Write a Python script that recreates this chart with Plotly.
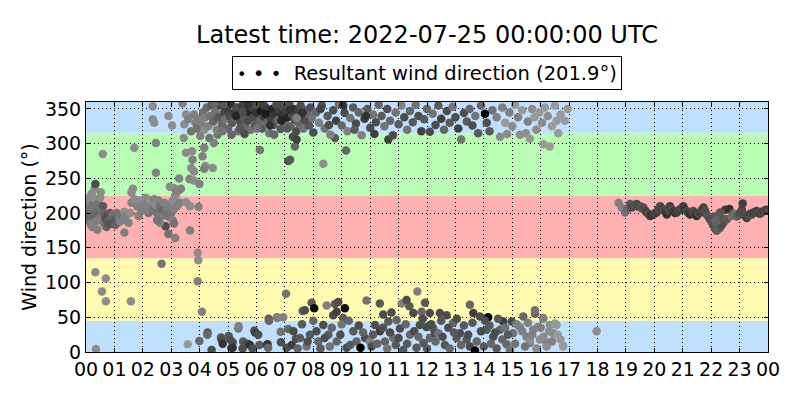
import plotly.graph_objects as go

# ---------------- data ----------------
tick_labels = ["00","01","02","03","04","05","06","07","08","09","10","11","12",
               "13","14","15","16","17","18","19","20","21","22","23","00"]
resultant_dir = 201.9
latest_time = "2022-07-25 00:00:00 UTC"

# direction sectors (deg) and their fill colours
sector_lo = [0, 45, 135, 225, 315]
sector_hi = [45, 135, 225, 315, 360]
sector_col = ["#bfe0ff", "#fffbb0", "#ffb0b0", "#b9fdb5", "#bfe0ff"]

# night / early morning SW cluster (00-04 h)
hours_a = [0.02,0.05,0.08,0.1,0.12,0.15,0.18,0.2,0.22,0.25,0.28,0.3,0.33,0.35,0.38,0.4,0.42,0.45,0.48,0.5,
           0.52,0.55,0.58,0.6,0.62,0.65,0.68,0.7,0.72,0.75,0.78,0.8,0.82,0.85,0.88,0.9,0.93,0.95,0.98,1.0,
           1.03,1.05,1.08,1.1,1.15,1.2,1.25,1.3,1.35,1.4,1.5,1.55,1.6,1.65,0.33,0.59,0.33,0.7,0.56,0.7,
           0.35,1.58,1.7,1.35,
           1.6,1.7,1.8,1.9,2.0,2.05,2.1,2.15,2.2,2.25,2.3,2.35,2.4,2.45,2.5,2.55,2.6,2.65,2.7,2.75,
           2.8,2.85,2.9,2.95,3.0,3.05,3.1,3.15,3.2,3.25,3.3,3.1,2.95,2.8,2.9,3.05,3.1,2.6,2.5,1.85,
           1.95,2.12,2.35,2.35,2.4,2.46,2.46,2.66,2.9,3.03,3.14,
           3.28,3.34,3.17,3.44,3.52,3.73,3.75,3.7,3.8,3.64,3.79,3.99,3.96,3.66,3.52,3.66,3.93,3.95,3.93,3.58,
           4.16,4.1,4.2,4.46,4.16,4.34,4.5,4.63,4.02,4.16,3.4,3.52,3.8,3.46,3.6,3.7,3.85,3.9,3.98]
dir_a = [200,215,190,222,205,185,196,228,180,212,198,235,208,188,220,176,214,200,192,222,
         230,205,188,210,200,185,195,192,180,188,196,184,190,200,186,192,185,198,188,193,
         183,190,200,186,194,188,197,190,202,196,186,200,230,235,242,285,115,106,87,73,
         4,73,294,172,
         215,220,210,218,212,205,222,215,200,218,210,205,220,212,200,218,210,195,205,215,
         200,208,195,212,200,218,206,225,210,232,215,236,238,181,170,190,185,186,190,196,
         205,205,354,335,330,301,258,127,340,326,164,
         250,235,232,308,287,289,277,265,260,249,247,242,209,210,216,175,143,132,102,11,
         294,282,268,265,264,308,301,313,311,320,358,342,342,328,335,318,330,322,335]
shade_a = [.45,.5,.4,.55,.45,.5,.4,.55,.5,.45,.4,.55,.45,.5,.55,.5,.45,.4,.5,.55,
           .55,.45,.5,.35,.4,.45,.35,.3,.4,.35,.3,.35,.4,.35,.3,.4,.35,.45,.35,.4,
           .4,.35,.45,.4,.45,.5,.45,.5,.55,.5,.5,.55,.55,.55,.3,.55,.55,.55,.55,.55,
           .55,.55,.55,.5,
           .5,.55,.5,.55,.5,.45,.55,.5,.45,.55,.5,.45,.5,.55,.45,.5,.45,.5,.4,.5,
           .45,.5,.45,.5,.45,.55,.5,.55,.5,.55,.5,.55,.55,.3,.45,.5,.45,.5,.45,.5,
           .5,.5,.55,.55,.55,.5,.5,.45,.55,.55,.5,
           .5,.5,.5,.55,.55,.55,.5,.55,.55,.5,.55,.5,.5,.55,.55,.5,.55,.55,.5,.6,
           .5,.5,.55,.55,.5,.45,.5,.45,.5,.55,.5,.55,.5,.55,.5,.45,.5,.45,.5]

# daytime northerly cluster (near 315-360 deg)
hours_b = [4.05,4.12,4.2,4.25,4.3,4.38,4.42,4.48,4.55,4.6,4.65,4.72,4.78,4.85,4.9,4.95,5.0,5.05,5.1,5.15,
           5.2,5.25,5.3,5.35,5.4,5.45,5.5,5.55,5.6,5.65,5.7,5.75,5.8,5.85,5.9,5.95,6.0,6.05,6.1,6.15,
           6.2,6.25,6.3,6.35,6.4,6.45,6.5,6.55,6.6,6.65,6.7,6.75,6.8,6.85,6.9,6.95,7.0,7.05,7.1,7.15,
           7.2,7.25,7.3,7.35,7.4,7.45,7.5,7.55,7.6,7.65,7.7,7.75,7.8,7.85,7.9,7.95,8.0,
           4.52,4.8,5.12,5.42,5.58,5.9,6.22,6.48,6.62,6.88,7.08,7.28,7.42,7.62,5.28,5.72,6.02,6.32,6.78,7.18,
           5.52,4.88,6.12,7.12,7.18,8.35,7.35,9.15,10.64,7.41,8.76,
           8.1,8.2,8.3,8.4,8.5,8.6,8.7,8.8,8.9,9.0,9.1,9.2,9.3,9.4,9.5,9.6,9.7,9.8,9.9,10.0,
           10.1,10.2,10.3,8.25,8.55,9.05,9.45,9.85,10.15,
           10.4,10.5,10.6,10.7,10.8,10.9,11.0,11.1,11.2,11.3,11.4,11.5,11.6,11.7,11.8,11.9,12.0,12.1,12.2,12.3,
           12.4,12.5,12.6,12.7,12.8,12.9,13.0,13.1,13.2,13.3,13.4,13.5,13.6,13.7,13.8,13.9,14.1,14.2,14.3,14.04,
           14.45,14.57,14.65,14.75,14.82,14.9,15.0,15.1,15.2,15.27,15.35,15.48,15.55,15.62,15.7,15.78,15.85,15.95,16.05,16.09,
           16.15,16.25,16.32,16.4,16.5,16.56,16.62,16.7,16.85,16.95]
dir_b = [330,345,338,352,325,340,356,332,347,320,338,355,328,344,335,350,322,340,357,330,
         345,336,352,318,342,330,355,337,325,348,333,345,320,352,338,327,344,356,333,347,
         322,339,353,330,345,315,336,350,327,342,356,334,348,321,340,353,330,345,338,357,
         325,342,350,334,318,346,329,355,338,322,348,333,343,326,352,337,316,
         358,318,313,322,314,356,357,326,313,333,322,310,337,345,340,357,322,343,358,349,
         346,357,291,275,277,271,296,290,306,306,308,
         345,330,355,322,340,313,348,333,357,326,344,318,337,352,329,345,312,336,350,323,
         342,331,356,350,327,355,320,340,314,
         340,325,350,333,312,345,328,355,338,320,347,331,356,340,318,335,350,317,343,327,
         355,336,320,347,330,353,338,322,306,344,332,350,326,340,315,355,330,318,348,343,
         338,310,352,330,314,345,325,356,338,313,348,315,332,307,350,338,320,345,330,299,
         352,340,296,325,355,333,315,342,333,350]
shade_b = [.5,.45,.5,.4,.5,.45,.35,.4,.45,.5,.35,.3,.4,.3,.45,.25,.4,.3,.2,.35,
           .25,.4,.3,.45,.2,.3,.25,.35,.4,.2,.3,.15,.45,.25,.3,.35,.2,.3,.4,.1,
           .35,.25,.2,.4,.3,.45,.25,.15,.35,.2,.3,.4,.25,.35,.2,.3,.45,.25,.15,.3,
           .4,.3,.2,.35,.3,.25,.4,.3,.25,.45,.35,.3,.4,.35,.3,.45,.3,
           .4,.45,.4,.35,.3,.3,.25,.2,.4,.15,.35,.3,.5,.2,.15,.2,.45,.1,.3,.2,
           .3,.35,.45,.3,.35,.55,.4,.4,.25,.25,.35,
           .4,.5,.3,.45,.35,.5,.3,.25,.45,.4,.3,.5,.45,.35,.3,.4,.5,.25,.35,.3,
           .45,.3,.4,.25,.3,.2,.35,.2,.25,
           .35,.45,.3,.4,.3,.45,.35,.5,.3,.45,.4,.35,.45,.3,.25,.35,.4,.3,.45,.3,
           .35,.25,.4,.3,.35,.45,.3,.25,.45,.3,.35,.4,.3,.45,.35,.4,.3,.35,.45,.0,
           .5,.55,.5,.6,.55,.5,.55,.6,.5,.55,.6,.55,.5,.6,.55,.6,.55,.6,.55,.6,
           .6,.55,.6,.6,.6,.6,.6,.6,.6,.6]

# daytime northerly cluster (near 0-90 deg)
hours_c = [3.99,4.08,4.28,4.27,4.42,4.75,4.77,4.81,5.02,5.07,5.12,5.16,5.16,5.36,5.37,5.51,5.53,5.69,5.77,5.86,
           5.92,5.95,6.06,6.1,6.36,6.39,6.41,6.43,6.44,6.72,6.73,6.85,6.86,6.94,7.04,7.06,7.12,7.24,7.39,7.53,
           7.62,7.7,7.76,7.88,7.94,8.03,8.11,8.17,8.35,8.47,8.53,8.58,8.7,8.76,8.82,8.82,8.88,9.05,9.11,9.17,
           9.41,9.52,9.66,9.82,9.87,9.99,10.17,10.34,10.34,10.46,10.52,10.64,10.75,10.81,10.93,11.05,11.11,11.16,11.28,11.38,
           11.4,11.52,11.63,11.66,11.75,11.81,11.87,11.93,11.98,12.1,12.1,12.22,12.28,12.4,12.45,12.63,12.69,12.92,13.04,13.16,
           13.39,13.51,13.51,13.63,13.69,13.86,14.1,14.15,14.33,14.45,14.57,14.68,14.8,14.92,14.98,15.03,15.27,15.39,15.5,15.62,
           15.62,15.74,15.8,15.8,15.91,15.97,16.09,16.09,16.2,16.21,16.32,16.44,16.5,16.56,16.79,16.79,17.97,
           7.3,7.45,7.6,7.8,8.0,8.25,8.4,8.65,8.95,9.0,9.25,9.3,9.6,9.75,10.05,10.1,10.25,10.45,10.6,10.7,
           10.9,11.0,11.25,11.3,11.55,11.7,11.85,12.0,12.15,12.3,12.5,12.55,12.75,12.8,12.95,13.05,13.2,13.3,13.45,13.6,
           13.75,13.9,14.0,14.05,14.2,14.25,14.4,14.5,14.65,14.75,14.85,15.1,15.15,15.35,15.45,15.55,15.7,15.85,16.0,16.1,
           16.3,16.4,16.6,16.7]
dir_c = [16,58,28,25,3,21,18,12,23,18,6,14,6,34,37,5,15,12,10,5,
         31,28,25,10,10,11,6,48,45,50,49,29,14,50,84,6,33,10,19,20,
         59,60,8,25,71,63,30,15,39,67,25,8,53,69,58,15,72,49,63,6,
         30,15,6,20,74,15,39,70,30,54,15,44,57,20,46,34,70,3,75,66,
         25,56,6,87,39,58,13,71,36,56,20,34,27,27,56,10,53,42,20,27,
         18,68,8,56,2,51,32,50,22,5,32,44,11,3,44,27,36,51,22,13,
         16,32,55,60,36,18,49,48,14,8,39,27,41,39,8,9,30,
         30,5,40,15,45,5,20,35,25,40,45,10,38,28,8,25,12,35,5,28,
         10,20,40,12,30,22,48,5,40,15,45,22,35,5,28,48,10,38,25,42,
         15,30,8,45,38,12,28,48,18,35,25,12,40,30,8,42,25,5,35,22,
         30,15,25,18]
shade_c = [.4,.5,.35,.4,.3,.35,.3,.2,.35,.3,.25,.3,.2,.45,.5,.3,.35,.3,.2,.3,
           .35,.25,.3,.35,.3,.2,.4,.35,.4,.45,.5,.45,.3,.5,.45,.3,.4,.25,.3,.35,
           .4,.3,.45,.35,.35,.05,.3,.4,.3,.5,.35,.45,.3,.35,.25,.4,.3,.35,.05,.3,
           .35,.4,.0,.3,.45,.5,.3,.35,.25,.3,.4,.35,.3,.45,.4,.3,.5,.35,.3,.35,
           .4,.3,.35,.5,.3,.4,.35,.35,.3,.3,.4,.35,.3,.45,.3,.35,.3,.4,.35,.3,
           .35,.4,.3,.25,.0,.3,.35,.0,.3,.35,.4,.25,.4,.45,.3,.45,.5,.4,.5,.5,
           .55,.5,.4,.45,.5,.55,.45,.5,.5,.55,.55,.55,.6,.6,.6,.6,.55,
           .3,.4,.35,.3,.4,.35,.3,.4,.3,.45,.4,.35,.3,.4,.3,.35,.4,.3,.45,.3,
           .35,.3,.4,.35,.3,.4,.3,.35,.3,.4,.35,.3,.3,.4,.35,.3,.4,.35,.3,.35,
           .4,.3,.35,.3,.35,.4,.3,.35,.4,.45,.35,.45,.5,.5,.45,.5,.5,.55,.5,.55,
           .55,.5,.6,.6]

# evening steady SSW flow (19-24 h)
hours_d = [18.74,18.85,18.97,19.05,19.15,19.2,19.26,19.32,19.38,19.44,19.5,19.55,19.61,19.67,19.73,19.79,19.85,19.91,19.97,20.03,
           20.08,20.14,20.2,20.26,20.32,20.38,20.44,20.5,20.55,20.61,20.67,20.73,20.79,20.85,20.9,20.96,21.02,21.08,21.14,21.2,
           21.26,21.32,21.37,21.43,21.49,21.55,21.61,21.67,21.73,21.79,21.84,21.9,21.96,22.02,22.08,22.14,22.2,22.25,22.31,22.37,
           22.43,22.49,22.55,22.64,22.31,22.72,22.78,22.84,22.9,22.96,23.02,23.08,23.11,23.17,23.25,23.31,23.37,23.43,23.49,23.55,
           23.6,23.66,23.72,23.78,23.84,23.9,23.95,24.0,22.1,22.25,22.4,22.15]
dir_d = [215,208,201,206,213,208,210,212,213,209,210,207,208,204,201,199,196,197,198,200,
         201,206,210,207,205,202,198,204,210,206,203,200,201,204,205,207,210,205,203,200,
         198,201,203,199,196,199,201,205,208,203,198,195,191,187,182,178,175,177,179,183,
         186,205,191,206,201,196,199,198,195,197,201,205,214,197,193,196,199,198,201,202,
         203,200,199,201,203,204,205,203,195,190,192,188]
shade_d = [.5,.5,.45,.4,.35,.3,.3,.35,.3,.3,.3,.35,.3,.3,.25,.3,.25,.2,.25,.3,
           .25,.3,.3,.25,.3,.25,.2,.3,.25,.3,.25,.2,.25,.3,.25,.3,.25,.2,.3,.25,
           .2,.25,.3,.25,.2,.3,.25,.3,.25,.3,.3,.35,.3,.35,.3,.35,.3,.4,.35,.3,
           .3,.25,.35,.2,.35,.45,.4,.45,.4,.35,.3,.3,.25,.3,.25,.3,.25,.3,.25,.3,
           .25,.3,.25,.3,.25,.3,.25,.3,.35,.4,.35,.4]

hours = hours_a + hours_b + hours_c + hours_d
direction = dir_a + dir_b + dir_c + dir_d
shade = shade_a + shade_b + shade_c + shade_d

# ---------------- figure ----------------
FONT = "DejaVu Sans"
fig = go.Figure()

fig.add_trace(go.Scatter(
    x=hours, y=direction, mode="markers", showlegend=False,
    marker=dict(size=8.5, color=shade, cmin=0, cmax=1,
                colorscale=[[0, "#000000"], [1, "#ffffff"]],
                line=dict(width=0)),
    hovertemplate="%{x:.2f} h<br>%{y}°<extra></extra>",
))

for lo, hi, col in zip(sector_lo, sector_hi, sector_col):
    fig.add_shape(type="rect", xref="x domain", yref="y", x0=0, x1=1, y0=lo, y1=hi,
                  fillcolor=col, line=dict(width=0), layer="below")

axis_common = dict(showline=True, linecolor="black", linewidth=1, mirror="ticks",
                   ticks="inside", ticklen=4, tickcolor="black",
                   showgrid=True, gridcolor="black", gridwidth=1, griddash="1px,3px",
                   zeroline=False, tickfont=dict(family=FONT, size=19, color="black"))

fig.update_xaxes(range=[0, 24], tickvals=list(range(25)), ticktext=tick_labels, **axis_common)
fig.update_yaxes(range=[0, 360], tickvals=[0, 50, 100, 150, 200, 250, 300, 350],
                 title=dict(text="Wind direction (°)", font=dict(family=FONT, size=19, color="black"),
                            standoff=3),
                 **axis_common)

fig.add_annotation(
    xref="paper", yref="paper", x=0.5, y=1.117, xanchor="center", yanchor="middle",
    showarrow=False, bordercolor="black", borderwidth=1, borderpad=4, bgcolor="white",
    text=("<span style='font-size:16px'>•</span> <span style='font-size:20px'>•</span> "
          "<span style='font-size:18px'>•</span>  "
          f"Resultant wind direction ({resultant_dir}°)"),
    font=dict(family=FONT, size=19.5, color="black"),
)

fig.update_layout(
    width=784, height=384,
    margin=dict(l=78, r=24, t=94, b=38),
    paper_bgcolor="white", plot_bgcolor="white",
    title=dict(text=f"Latest time: {latest_time}", x=0.5, xref="paper", xanchor="center",
               y=0.9297, yanchor="middle", font=dict(family=FONT, size=24, color="black")),
    font=dict(family=FONT, color="black"),
)

fig.write_html("out.html")
